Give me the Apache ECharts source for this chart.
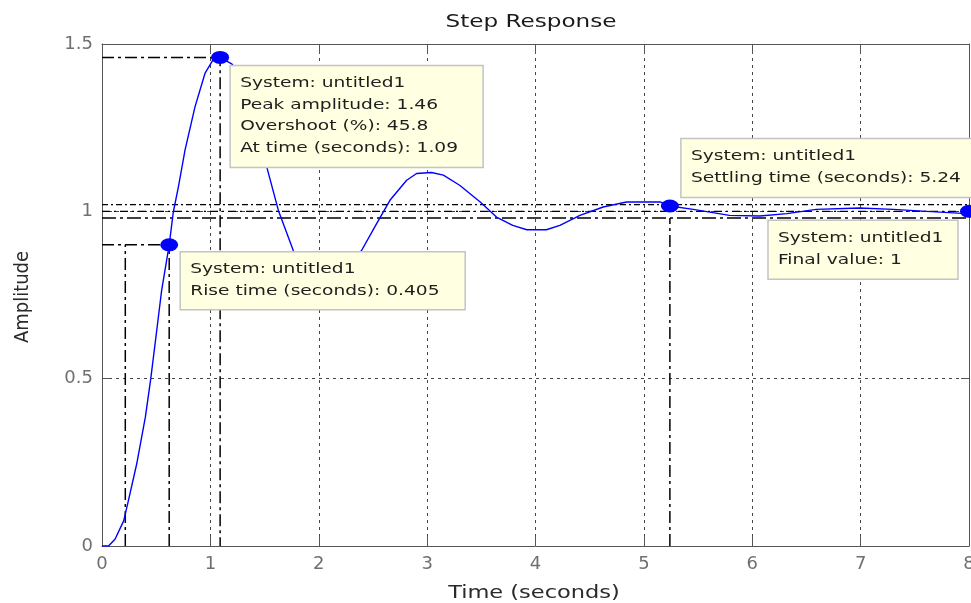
<!DOCTYPE html>
<html>
<head>
<meta charset="utf-8">
<script src="https://cdn.jsdelivr.net/npm/echarts@6/dist/echarts.min.js"></script>
<style>
  html, body { margin: 0; padding: 0; background: #ffffff; }
  #chart { width: 971px; height: 603px; }
</style>
</head>
<body>
<div id="chart"></div>
<script>
// Step response samples: time (s) and amplitude
const timeS = [0, 0.06, 0.12, 0.20, 0.243, 0.32, 0.40, 0.45, 0.505, 0.55, 0.62, 0.658, 0.705, 0.766, 0.858, 0.95, 1.02, 1.09,
  1.20, 1.30, 1.40, 1.52, 1.63, 1.765, 1.85, 1.95, 2.05, 2.15, 2.25, 2.32, 2.395, 2.534, 2.657, 2.811, 2.903, 3.04, 3.15,
  3.30, 3.49, 3.64, 3.79, 3.92, 4.10, 4.225, 4.41, 4.625, 4.84, 5.15, 5.24, 5.455, 5.79, 6.07, 6.32, 6.59, 6.99, 7.30, 7.61, 7.98, 8.0];
const amplitude = [0, 0, 0.02, 0.075, 0.135, 0.245, 0.385, 0.50, 0.644, 0.763, 0.90, 0.998, 1.073, 1.183, 1.312, 1.412, 1.45, 1.46,
  1.44, 1.39, 1.29, 1.133, 1.0, 0.883, 0.82, 0.785, 0.77, 0.775, 0.81, 0.845, 0.883, 0.963, 1.033, 1.093, 1.113, 1.116, 1.108,
  1.078, 1.028, 0.983, 0.958, 0.945, 0.945, 0.958, 0.988, 1.013, 1.028, 1.028, 1.016, 1.006, 0.988, 0.986, 0.993, 1.006, 1.010, 1.006, 1.0, 0.993, 0.995];

// Characteristics of the response
const systemName = 'untitled1';
const peakTime = 1.09;
const peakAmp = 1.46;
const overshootPct = 45.8;
const riseLevels = [0.1, 0.9];
const riseTimes = [0.215, 0.62];
const settleTime = 5.24;
const settleAmp = 1.016;
const settleBand = [0.98, 1.02];
const finalTime = 8;
const finalValue = 1;

// Axis ranges
const xRange = [0, 8];
const yRange = [0, 1.5];
const xStep = 1;
const yStep = 0.5;

const curve = timeS.map((t, i) => [t, amplitude[i]]);

const FONT = '"DejaVu Sans", sans-serif';
const guideColor = '#000000';
const dashDot = [12, 4, 3, 4];

function guide(data, dash, width) {
  return {
    type: 'line', data: data, symbol: 'none', silent: true, animation: false, z: 2,
    lineStyle: { color: guideColor, width: width || 1.5, type: dash }
  };
}

const chart = echarts.init(document.getElementById('chart'), null, { renderer: 'canvas' });

const axisLineStyle = { color: '#555555', width: 1 };

chart.setOption({
  backgroundColor: '#ffffff',
  animation: false,
  grid: { left: 102, right: 2, top: 44, bottom: 57, containLabel: false, outerBoundsMode: 'none' },
  xAxis: [
    {
      type: 'value', min: xRange[0], max: xRange[1], interval: xStep, position: 'bottom',
      axisLine: { show: true, onZero: false, lineStyle: axisLineStyle },
      axisTick: { show: true, inside: true, length: 10, lineStyle: axisLineStyle },
      axisLabel: { color: '#707070', fontFamily: FONT, fontSize: 18, margin: 9, hideOverlap: false },
      splitLine: { show: true, lineStyle: { color: '#444444', width: 1, type: [3, 4] } }
    },
    {
      type: 'value', min: xRange[0], max: xRange[1], interval: xStep, position: 'top',
      axisLine: { show: true, onZero: false, lineStyle: axisLineStyle },
      axisTick: { show: true, inside: true, length: 10, lineStyle: axisLineStyle },
      axisLabel: { show: false }, splitLine: { show: false }
    }
  ],
  yAxis: [
    {
      type: 'value', min: yRange[0], max: yRange[1], interval: yStep, position: 'left',
      axisLine: { show: true, onZero: false, lineStyle: axisLineStyle },
      axisTick: { show: true, inside: true, length: 8, lineStyle: axisLineStyle },
      axisLabel: { color: '#707070', fontFamily: FONT, fontSize: 18, margin: 9 },
      splitLine: { show: true, lineStyle: { color: '#444444', width: 1, type: [3, 4] } }
    },
    {
      type: 'value', min: yRange[0], max: yRange[1], interval: yStep, position: 'right',
      axisLine: { show: true, onZero: false, lineStyle: axisLineStyle },
      axisTick: { show: true, inside: true, length: 8, lineStyle: axisLineStyle },
      axisLabel: { show: false }, splitLine: { show: false }
    }
  ],
  series: [
    // settling band and final value
    guide([[xRange[0], settleBand[1]], [xRange[1], settleBand[1]]], [6, 3, 2, 3], 1.3),
    guide([[xRange[0], settleBand[0]], [xRange[1], settleBand[0]]], [14, 4, 3, 4], 1.5),
    guide([[xRange[0], finalValue], [xRange[1], finalValue]], [8, 4, 2, 4], 1.3),
    guide([[settleTime, yRange[0]], [settleTime, settleBand[0]]], dashDot),
    // peak
    guide([[xRange[0], peakAmp], [peakTime, peakAmp], [peakTime, yRange[0]]], dashDot),
    // rise time
    guide([[xRange[0], riseLevels[1]], [riseTimes[1], riseLevels[1]]], dashDot),
    guide([[riseTimes[0], yRange[0]], [riseTimes[0], riseLevels[1]]], dashDot),
    guide([[riseTimes[1], yRange[0]], [riseTimes[1], riseLevels[1]]], dashDot),
    {
      name: systemName, type: 'line', data: curve, symbol: 'none', z: 3,
      lineStyle: { color: '#0000ff', width: 1.4 }
    },
    {
      type: 'scatter', z: 4, symbol: 'circle', symbolSize: [18, 13],
      itemStyle: { color: '#0000ff', opacity: 1 },
      emphasis: { disabled: true },
      data: [[peakTime, peakAmp], [riseTimes[1], riseLevels[1]], [settleTime, settleAmp], [finalTime, finalValue]]
    }
  ]
});

// Data-tip boxes and text
const px = p => chart.convertToPixel({ gridIndex: 0 }, p);
const textColor = '#1e1e1e';
const lineGap = 21.7;

function tipBox(left, top, width, height, lines) {
  const els = [{
    type: 'rect', z: 100,
    shape: { x: left, y: top, width: width, height: height },
    style: { fill: '#ffffe1', stroke: '#c4c4c4', lineWidth: 1.5 }
  }];
  lines.forEach((s, i) => {
    els.push({
      type: 'text', z: 101, x: left + 10, y: top + 18 + i * lineGap, scaleX: 1.33,
      style: { text: s, fill: textColor, fontFamily: FONT, fontSize: 14,
        textAlign: 'left', textVerticalAlign: 'middle' }
    });
  });
  return els;
}

const pPeak = px([peakTime, peakAmp]);
const pRise = px([riseTimes[1], riseLevels[1]]);
const pSettle = px([settleTime, settleAmp]);
const pFinal = px([finalTime, finalValue]);

const elements = [].concat(
  tipBox(pPeak[0] + 10, pPeak[1] + 8, 253, 102, [
    'System: ' + systemName,
    'Peak amplitude: ' + peakAmp.toFixed(2),
    'Overshoot (%): ' + overshootPct.toFixed(1),
    'At time (seconds): ' + peakTime.toFixed(2)
  ]),
  tipBox(pRise[0] + 11, pRise[1] + 7, 285, 58, [
    'System: ' + systemName,
    'Rise time (seconds): ' + (riseTimes[1] - riseTimes[0]).toFixed(3)
  ]),
  tipBox(pSettle[0] + 11, pSettle[1] - 67.5, 330, 59, [
    'System: ' + systemName,
    'Settling time (seconds): ' + settleTime.toFixed(2)
  ]),
  tipBox(pFinal[0] - 201, pFinal[1] + 9, 190, 59, [
    'System: ' + systemName,
    'Final value: ' + finalValue
  ]),
  [
    {
      type: 'text', z: 101, x: 531, y: 23, scaleX: 1.36,
      style: { text: 'Step Response', fill: '#1a1a1a', fontFamily: FONT, fontSize: 17,
        textAlign: 'center', textVerticalAlign: 'middle' }
    },
    {
      type: 'text', z: 101, x: 534, y: 593, scaleX: 1.25,
      style: { text: 'Time (seconds)', fill: '#2a2a2a', fontFamily: FONT, fontSize: 18,
        textAlign: 'center', textVerticalAlign: 'middle' }
    },
    {
      type: 'text', z: 101, x: 23, y: 297, rotation: Math.PI / 2, scaleY: 1.1,
      style: { text: 'Amplitude', fill: '#2a2a2a', fontFamily: FONT, fontSize: 18,
        textAlign: 'center', textVerticalAlign: 'middle' }
    }
  ]
);

chart.setOption({ graphic: { elements: elements } });
</script>
</body>
</html>
